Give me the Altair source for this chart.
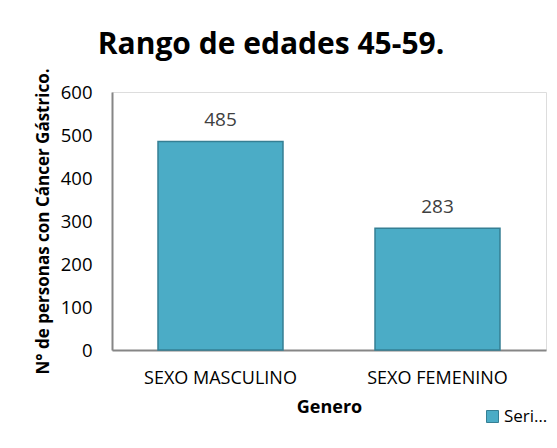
import altair as alt
import pandas as pd

categories = ["SEXO MASCULINO", "SEXO FEMENINO"]
values = [485, 283]
series = ["Serie1", "Serie1"]
y_ticks = [0, 100, 200, 300, 400, 500, 600]

df = pd.DataFrame({"genero": categories, "n": values, "serie": series})

FONT = "Open Sans"

base = alt.Chart(df).encode(
    x=alt.X("genero:N", sort=categories, title="Genero",
            scale=alt.Scale(paddingInner=0.424, paddingOuter=0.212),
            axis=alt.Axis(labelAngle=0, labelPadding=19, titlePadding=11,
                          ticks=False, tickSize=0, domainColor="#868686",
                          domainWidth=2, labelFontSize=18, titleFontSize=18,
                          labelFont=FONT, titleFont=FONT, labelColor="#000000",
                          titleColor="#000000", titleFontWeight="bold")),
    y=alt.Y("n:Q", title="N° de personas con Cáncer Gástrico.",
            scale=alt.Scale(domain=[0, 600], nice=False),
            axis=alt.Axis(values=y_ticks, grid=False, ticks=False, tickSize=0,
                          labelPadding=20, titlePadding=8, domainColor="#868686",
                          domainWidth=2, labelFontSize=18.5, titleFontSize=17,
                          labelFont=FONT, titleFont=FONT, labelColor="#000000",
                          titleColor="#000000", titleFontWeight="bold")),
)

bars = base.mark_bar(stroke="#357f94", strokeWidth=1.5).encode(
    color=alt.Color("serie:N", title=None,
                    scale=alt.Scale(domain=["Serie1"], range=["#4bacc6"]),
                    legend=alt.Legend(orient="none", legendX=372, legendY=316,
                                      symbolType="square", symbolSize=144,
                                      symbolStrokeColor="#357f94", symbolStrokeWidth=1,
                                      labelFontSize=17, labelFont=FONT, labelOffset=3,
                                      labelColor="#000000", labelLimit=44))
)

labels = base.mark_text(dy=-15, baseline="alphabetic", fontSize=19, font=FONT,
                        color="#404040").encode(text="n:Q")

chart = (bars + labels).properties(
    width=434, height=258,
    title=alt.TitleParams("Rango de edades 45-59.", fontSize=30, font=FONT,
                          fontWeight="bold", color="#000000", anchor="middle",
                          frame="group", dx=-58, offset=8),
    autosize=alt.AutoSizeParams(type="none"),
    padding={"left": 104, "top": 84, "right": 3, "bottom": 90},
).configure_view(fill="#e9f1f5", stroke=None).configure(background="#ffffff")

chart.save("out.html", embed_options={"renderer": "svg", "actions": False})
